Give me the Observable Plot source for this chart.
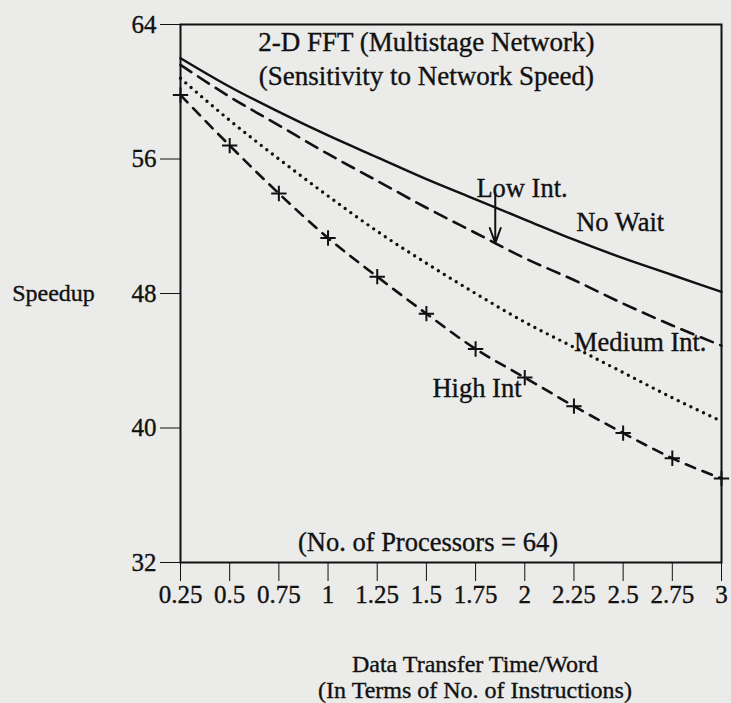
<!DOCTYPE html>
<html>
<head>
<meta charset="utf-8">
<script src="https://cdn.jsdelivr.net/npm/d3@7"></script>
<script src="https://cdn.jsdelivr.net/npm/@observablehq/plot@0.6"></script>
<style>
  html, body { margin: 0; padding: 0; background: #ebebe9; }
  #chart { width: 731px; height: 703px; }
  #chart svg text { paint-order: stroke; stroke: #111; stroke-width: 0.35px; }
</style>
</head>
<body>
<div id="chart"></div>
<script>
// Data transfer time per word (in instructions)
const transferTime = [0.25, 0.5, 0.75, 1, 1.25, 1.5, 1.75, 2, 2.25, 2.5, 2.75, 3];

// Speedup on 64 processors for each interference level
const noWait    = [62.0, 60.3, 58.8, 57.4, 56.1, 54.8, 53.6, 52.4, 51.2, 50.1, 49.1, 48.1];
const lowInt    = [61.6, 59.7, 58.0, 56.3, 54.7, 53.1, 51.6, 50.1, 48.8, 47.4, 46.1, 44.9];
const mediumInt = [60.8, 58.3, 56.0, 53.8, 51.7, 49.8, 48.0, 46.3, 44.8, 43.3, 41.8, 40.4];
const highInt   = [59.8, 56.8, 53.95, 51.3, 49.0, 46.8, 44.7, 43.0, 41.3, 39.7, 38.2, 37.0];

const yTicks = [32, 40, 48, 56, 64];
const xTicks = transferTime;

const toRows = (ys) => transferTime.map((x, i) => ({x, y: ys[i]}));

const font = "'Liberation Serif', 'Times New Roman', serif";
const ink = "#111";

const chart = Plot.plot({
  width: 731,
  height: 703,
  marginLeft: 180,
  marginRight: 10,
  marginTop: 24,
  marginBottom: 141,
  style: {background: "transparent", fontFamily: font, fontSize: "25px", color: ink},
  x: {domain: [0.25, 3], ticks: xTicks, tickFormat: d => String(d), tickSize: 19, tickPadding: 4, label: null},
  y: {domain: [32, 64], ticks: yTicks, tickSize: 20, tickPadding: 4, label: null},
  marks: [
    Plot.frame({stroke: ink, strokeWidth: 2}),
    // curves
    Plot.line(toRows(noWait), {x: "x", y: "y", stroke: ink, strokeWidth: 2.4, curve: "monotone-x"}),
    Plot.line(toRows(lowInt), {x: "x", y: "y", stroke: ink, strokeWidth: 2.6, strokeDasharray: "13,8", curve: "monotone-x"}),
    Plot.line(toRows(mediumInt), {x: "x", y: "y", stroke: ink, strokeWidth: 3.4, strokeDasharray: "0,7", strokeLinecap: "round", curve: "monotone-x"}),
    Plot.line(toRows(highInt), {x: "x", y: "y", stroke: ink, strokeWidth: 2.6, strokeDasharray: "10,8", curve: "monotone-x"}),
    Plot.dot(toRows(highInt), {x: "x", y: "y", symbol: "plus", r: 5, stroke: ink, strokeWidth: 2}),
    // title
    Plot.text(["2-D FFT (Multistage Network)\n(Sensitivity to Network Speed)"], {
      x: 1.5, y: 62.05, text: d => d, fill: ink, fontSize: 27, lineHeight: 1.27
    }),
    // curve labels
    Plot.text([{x: 1.986, y: 54.24, t: "Low Int."}, {x: 2.485, y: 52.22, t: "No Wait"},
               {x: 2.587, y: 45.08, t: "Medium Int."}, {x: 1.757, y: 42.35, t: "High Int"},
               {x: 1.508, y: 33.19, t: "(No. of Processors = 64)"}], {
      x: "x", y: "y", text: "t", fill: ink, fontSize: 26.5
    }),
    Plot.arrow([{x: 1.85, y1: 54.0, y2: 51.0}], {
      x1: "x", x2: "x", y1: "y1", y2: "y2", stroke: ink, strokeWidth: 2, headLength: 12, headAngle: 40
    }),
    // axis titles
    Plot.text(["Speedup"], {frameAnchor: "left", y: 48, text: d => d, dx: -127, textAnchor: "middle", fill: ink, fontSize: 24}),
    Plot.text(["Data Transfer Time/Word\n(In Terms of No. of Instructions)"], {
      frameAnchor: "bottom", text: d => d, dx: 24, dy: 135, lineHeight: 1.05, fill: ink, fontSize: 24
    })
  ]
});

document.getElementById("chart").appendChild(chart);
</script>
</body>
</html>
